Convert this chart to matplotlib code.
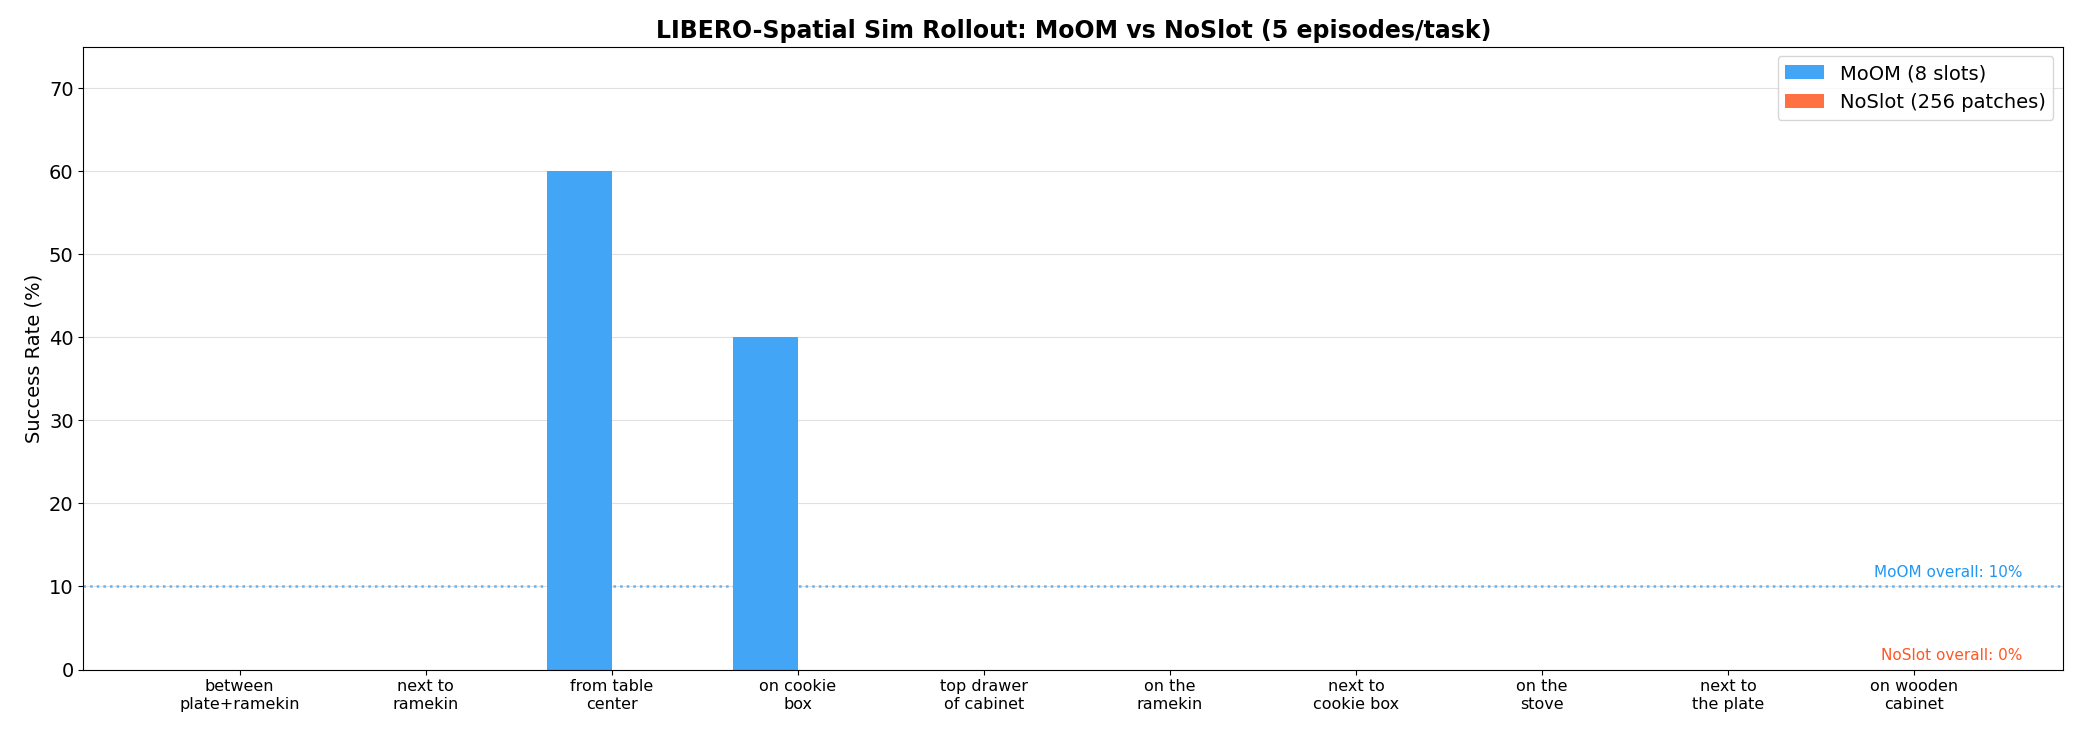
import matplotlib
matplotlib.use("Agg")
import matplotlib.pyplot as plt
import numpy as np

tasks = ["between\nplate+ramekin", "next to\nramekin", "from table\ncenter", "on cookie\nbox",
         "top drawer\nof cabinet", "on the\nramekin", "next to\ncookie box", "on the\nstove",
         "next to\nthe plate", "on wooden\ncabinet"]
moom = [0, 0, 60, 40, 0, 0, 0, 0, 0, 0]
noslot = [0, 0, 0, 0, 0, 0, 0, 0, 0, 0]
moom_overall = 10
noslot_overall = 0

fig, ax = plt.subplots(figsize=(20.84, 7.39), dpi=100)
fig.subplots_adjust(left=0.04, right=0.99, top=0.937, bottom=0.094)
x = np.arange(len(tasks))
w = 0.35
ax.bar(x - w/2, moom, w, color="#42A5F5", label="MoOM (8 slots)")
ax.bar(x + w/2, noslot, w, color="#FF7043", label="NoSlot (256 patches)")
ax.axhline(moom_overall, color="#42A5F5", linestyle=":", linewidth=1.8, alpha=0.8)
ax.text(len(tasks) - 0.42, moom_overall + 1.2, f"MoOM overall: {moom_overall}%", color="#2196F3",
        fontsize=11, ha="right")
ax.text(len(tasks) - 0.42, noslot_overall + 1.2, f"NoSlot overall: {noslot_overall}%", color="#FF5722",
        fontsize=11, ha="right")
ax.set_xticks(x)
ax.set_xticklabels(tasks, fontsize=11.5)
ax.set_xlim(-0.84, len(tasks) - 1 + 0.8)
ax.set_ylim(0, 75)
ax.set_ylabel("Success Rate (%)", fontsize=14)
ax.tick_params(axis="y", labelsize=14)
ax.set_title("LIBERO-Spatial Sim Rollout: MoOM vs NoSlot (5 episodes/task)", fontsize=17, fontweight="bold")
ax.yaxis.grid(True, color="#e0e0e0")
ax.set_axisbelow(True)
ax.legend(loc="upper right", fontsize=14)
fig.savefig("out.png", dpi=100)
